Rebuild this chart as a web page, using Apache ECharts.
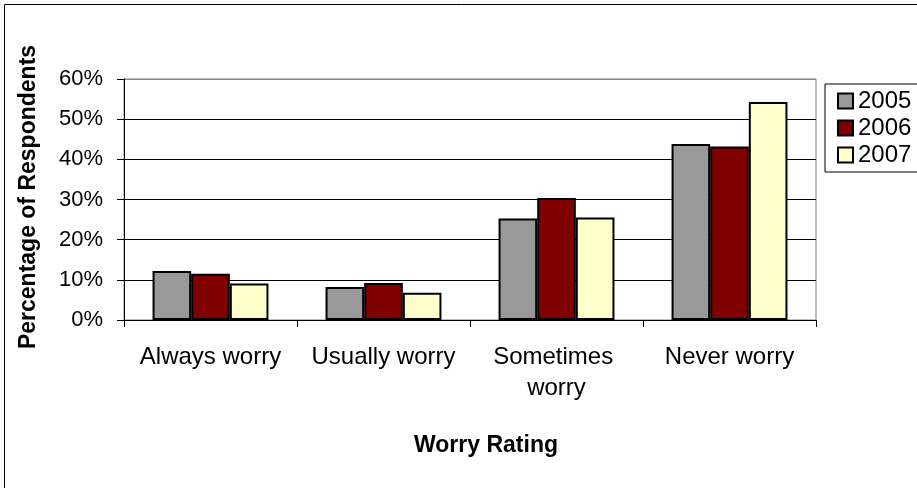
<!DOCTYPE html>
<html>
<head>
<meta charset="utf-8">
<script src="https://cdn.jsdelivr.net/npm/echarts@6/dist/echarts.min.js"></script>
<style>
html,body{margin:0;padding:0;background:#fff;}
#chart{width:917px;height:488px;}
</style>
</head>
<body>
<div id="chart"></div>
<script>
var categories = ["Always worry", "Usually worry", "Sometimes worry", "Never worry"];
var seriesNames = ["2005", "2006", "2007"];
var values2005 = [0.122, 0.082, 0.253, 0.438];
var values2006 = [0.115, 0.092, 0.304, 0.432];
var values2007 = [0.091, 0.068, 0.255, 0.543];
var seriesColors = ["#999999", "#800000", "#FFFFCC"];
var yTicks = { min: 0, max: 0.6, interval: 0.1 };
var xTitle = "Worry Rating";
var yTitle = "Percentage of Respondents";

var FONT = "Liberation Sans, Arial, sans-serif";
var chart = echarts.init(document.getElementById('chart'), null, { renderer: 'canvas' });
var allValues = [values2005, values2006, values2007];

var option = {
  backgroundColor: '#ffffff',
  animation: false,
  textStyle: { fontFamily: FONT },
  grid: { left: 124, top: 79, width: 692, height: 241, show: true, borderColor: '#808080', borderWidth: 1, backgroundColor: 'transparent' },
  legend: {
    orient: 'vertical',
    left: 825, top: 84,
    padding: [5, 20, 5, 12],
    itemGap: 3,
    itemWidth: 15, itemHeight: 15,
    borderColor: '#000', borderWidth: 1,
    icon: 'rect',
    textStyle: { fontFamily: FONT, fontSize: 24, color: '#000' },
    data: seriesNames
  },
  xAxis: {
    type: 'category',
    data: categories,
    axisLine: { lineStyle: { color: '#000', width: 1 } },
    axisTick: { show: true, length: 7, inside: false, lineStyle: { color: '#000' }, alignWithLabel: false },
    axisLabel: { fontFamily: FONT, fontSize: 24, color: '#000', margin: 22, interval: 0, width: 165, overflow: 'break', lineHeight: 31 }
  },
  yAxis: {
    type: 'value',
    min: yTicks.min, max: yTicks.max, interval: yTicks.interval,
    axisLine: { show: true, lineStyle: { color: '#000', width: 1 } },
    axisTick: { show: true, length: 7, lineStyle: { color: '#000' } },
    axisLabel: { fontFamily: FONT, fontSize: 22, color: '#000', margin: 21, formatter: function (v) { return Math.round(v * 100) + '%'; } },
    splitLine: { show: true, lineStyle: { color: ['#000', '#000', '#000', '#000', '#000', '#000', '#888'], width: 1 } }
  },
  series: seriesNames.map(function (name, i) {
    return {
      name: name,
      type: 'bar',
      data: allValues[i],
      barGap: '0%',
      barCategoryGap: '33%',
      itemStyle: { color: seriesColors[i], borderColor: '#000', borderWidth: 2 }
    };
  }),
  graphic: [
    { type: 'rect', shape: { x: 4.5, y: 4.5, width: 940, height: 520 }, style: { fill: 'none', stroke: '#000', lineWidth: 1 }, silent: true, z: -1 },
    { type: 'text', x: 29, y: 197, rotation: Math.PI / 2, style: { text: yTitle, font: 'bold 23px ' + FONT, fill: '#000', textAlign: 'center', textVerticalAlign: 'middle' } },
    { type: 'text', x: 486, y: 446, style: { text: xTitle, font: 'bold 23px ' + FONT, fill: '#000', textAlign: 'center', textVerticalAlign: 'middle' } }
  ]
};
chart.setOption(option);
</script>
</body>
</html>
